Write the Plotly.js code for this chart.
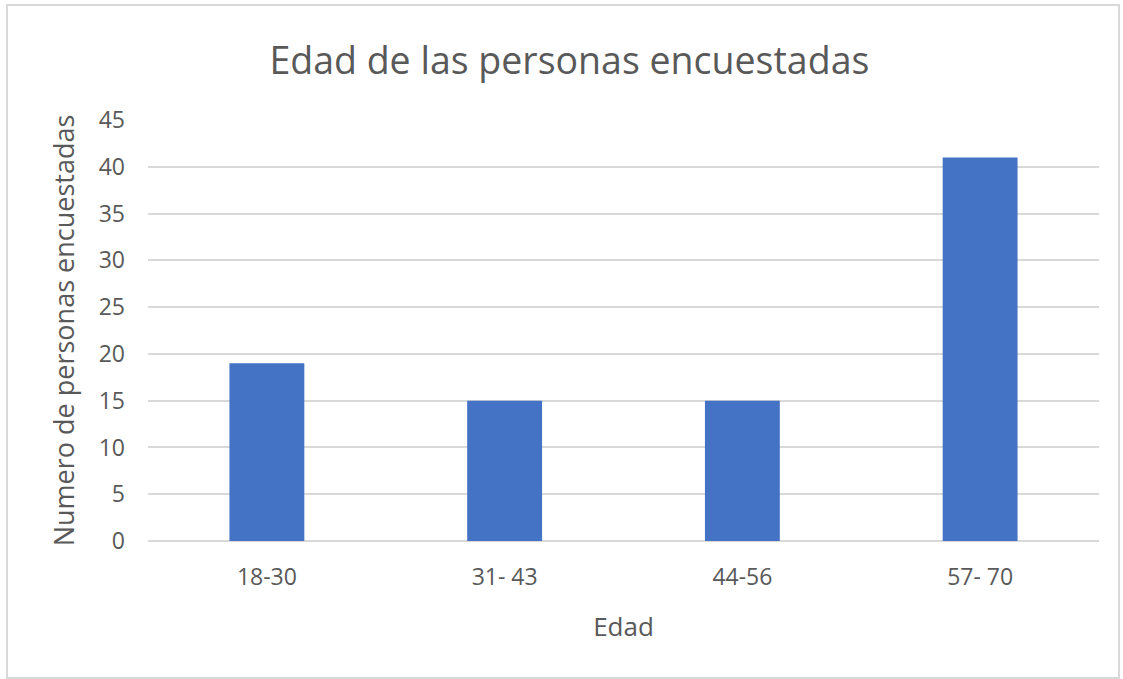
<!DOCTYPE html>
<html>
<head>
<meta charset="utf-8">
<script src="https://cdn.plot.ly/plotly-3.0.1.min.js"></script>
<style>
  html, body { margin: 0; padding: 0; background: #fff; }
  #wrap { position: relative; width: 1123px; height: 679px; }
  #chart { width: 1123px; height: 679px; }
  #frame { position: absolute; left: 6px; top: 4px; width: 1110px; height: 671px; border: 2px solid #d9d9d9; pointer-events: none; }
</style>
</head>
<body>
<div id="wrap">
  <div id="chart"></div>
  <div id="frame"></div>
</div>
<script>
const categories = ["18-30", "31- 43", "44-56", "57- 70"];
const values = [19, 15, 15, 41];
const chartTitle = "Edad de las personas encuestadas";
const xTitle = "Edad";
const yTitle = "Numero de personas encuestadas";

const font = "'Open Sans', 'Noto Sans', sans-serif";
const textColor = "#595959";

Plotly.newPlot("chart", [{
  type: "bar",
  x: categories,
  y: values,
  marker: { color: "#4472C4" },
  hoverinfo: "x+y"
}], {
  width: 1123,
  height: 679,
  paper_bgcolor: "rgba(0,0,0,0)",
  plot_bgcolor: "#fff",
  margin: { l: 148, r: 24, t: 120, b: 138 },
  bargap: 0.685,
  showlegend: false,
  font: { family: font, color: textColor },
  title: {
    text: chartTitle,
    font: { family: font, size: 37.5, color: textColor },
    x: 0.507, xanchor: "center",
    y: 0.91, yanchor: "middle"
  },
  xaxis: {
    type: "category",
    showgrid: false,
    showline: false,
    ticks: "",
    tickfont: { family: font, size: 23, color: textColor },
    ticklabelstandoff: 20,
    title: { text: xTitle, font: { family: font, size: 26, color: textColor }, standoff: 26 }
  },
  yaxis: {
    range: [0, 45],
    dtick: 5,
    tick0: 0,
    showgrid: true,
    gridcolor: "#d9d9d9",
    gridwidth: 1.5,
    zeroline: true,
    zerolinecolor: "#d9d9d9",
    zerolinewidth: 2,
    showline: false,
    ticks: "",
    tickfont: { family: font, size: 23, color: textColor },
    ticklabelstandoff: 22,
    title: { text: yTitle, font: { family: font, size: 27, color: textColor }, standoff: 16 }
  }
}, { displayModeBar: false, staticPlot: false });
</script>
</body>
</html>
